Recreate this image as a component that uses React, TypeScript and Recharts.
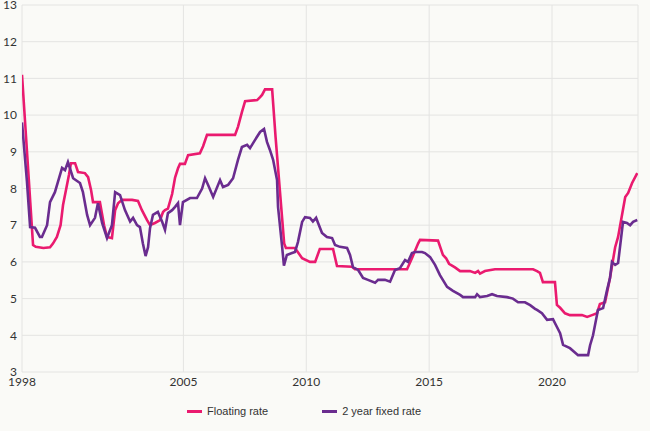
import React from 'react';
import { LineChart, Line, XAxis, YAxis, CartesianGrid, Legend } from 'recharts';

const floatingRate: [number, number][] = [
  [1998.43, 11.1], [1998.88, 6.46], [1998.99, 6.41], [1999.3, 6.38], [1999.57, 6.4],
  [1999.69, 6.5], [1999.85, 6.68], [2000.0, 7.0], [2000.1, 7.55], [2000.22, 7.96],
  [2000.34, 8.37], [2000.42, 8.69], [2000.59, 8.69], [2000.71, 8.45], [2000.99, 8.42],
  [2001.12, 8.31], [2001.24, 7.96], [2001.32, 7.63], [2001.6, 7.63], [2001.77, 7.0],
  [2001.89, 6.68], [2002.09, 6.65], [2002.22, 7.41], [2002.34, 7.6], [2002.5, 7.69],
  [2002.91, 7.69], [2003.15, 7.66], [2003.31, 7.41], [2003.52, 7.14], [2003.64, 7.0],
  [2003.84, 7.06], [2004.05, 7.14], [2004.17, 7.36], [2004.25, 7.41], [2004.37, 7.45],
  [2004.54, 7.85], [2004.66, 8.3], [2004.78, 8.55], [2004.86, 8.67], [2005.06, 8.67],
  [2005.19, 8.91], [2005.67, 8.96], [2005.8, 9.15], [2005.96, 9.46], [2007.1, 9.46],
  [2007.22, 9.68], [2007.38, 10.08], [2007.51, 10.38], [2008.0, 10.41], [2008.12, 10.49],
  [2008.2, 10.55], [2008.32, 10.7], [2008.61, 10.7], [2008.75, 9.4], [2008.93, 7.9],
  [2009.1, 6.5], [2009.17, 6.38], [2009.54, 6.38], [2009.83, 6.1], [2010.15, 6.0],
  [2010.36, 6.0], [2010.55, 6.35], [2011.09, 6.35], [2011.25, 5.89], [2011.86, 5.87],
  [2011.98, 5.8], [2014.1, 5.8], [2014.3, 6.1], [2014.55, 6.5], [2014.63, 6.6],
  [2015.36, 6.58], [2015.56, 6.19], [2015.69, 6.1], [2015.81, 5.95], [2016.05, 5.85],
  [2016.26, 5.75], [2016.66, 5.75], [2016.87, 5.7], [2016.99, 5.75], [2017.07, 5.68],
  [2017.27, 5.75], [2017.68, 5.8], [2019.23, 5.8], [2019.39, 5.75], [2019.51, 5.7],
  [2019.63, 5.45], [2020.12, 5.45], [2020.2, 4.83], [2020.33, 4.75], [2020.53, 4.6],
  [2020.73, 4.55], [2021.22, 4.55], [2021.43, 4.5], [2021.63, 4.55], [2021.83, 4.6],
  [2021.95, 4.85], [2022.16, 4.9], [2022.36, 5.56], [2022.57, 6.4], [2022.69, 6.68],
  [2022.98, 7.77], [2023.1, 7.88], [2023.26, 8.15], [2023.47, 8.42],
];

const fixedRate: [number, number][] = [
  [1998.43, 9.8], [1998.63, 8.2], [1998.76, 6.95], [1998.96, 6.93], [1999.16, 6.68],
  [1999.24, 6.68], [1999.45, 7.0], [1999.57, 7.63], [1999.77, 7.9], [2000.06, 8.56],
  [2000.18, 8.5], [2000.3, 8.72], [2000.51, 8.28], [2000.79, 8.15], [2000.91, 7.9],
  [2001.08, 7.28], [2001.2, 7.0], [2001.4, 7.2], [2001.52, 7.6], [2001.69, 7.06],
  [2001.89, 6.65], [2002.09, 7.0], [2002.22, 7.9], [2002.42, 7.82], [2002.62, 7.41],
  [2002.83, 7.1], [2002.95, 7.2], [2003.11, 7.0], [2003.23, 6.95], [2003.35, 6.5],
  [2003.46, 6.16], [2003.56, 6.4], [2003.64, 6.92], [2003.76, 7.28], [2003.96, 7.36],
  [2004.13, 7.1], [2004.25, 6.87], [2004.37, 7.33], [2004.54, 7.41], [2004.66, 7.5],
  [2004.78, 7.6], [2004.86, 7.0], [2004.98, 7.63], [2005.27, 7.74], [2005.55, 7.74],
  [2005.76, 8.0], [2005.88, 8.28], [2006.0, 8.1], [2006.21, 7.77], [2006.49, 8.23],
  [2006.61, 8.04], [2006.82, 8.1], [2007.02, 8.28], [2007.22, 8.78], [2007.38, 9.13],
  [2007.59, 9.19], [2007.71, 9.1], [2007.91, 9.32], [2008.12, 9.54], [2008.28, 9.62],
  [2008.4, 9.27], [2008.52, 9.05], [2008.65, 8.78], [2008.81, 8.23], [2008.85, 7.5],
  [2009.01, 6.46], [2009.09, 5.9], [2009.21, 6.19], [2009.42, 6.24], [2009.54, 6.27],
  [2009.66, 6.54], [2009.83, 7.09], [2009.95, 7.22], [2010.15, 7.2], [2010.27, 7.1],
  [2010.4, 7.2], [2010.48, 7.06], [2010.64, 6.79], [2010.84, 6.68], [2011.05, 6.65],
  [2011.17, 6.46], [2011.37, 6.41], [2011.66, 6.38], [2011.78, 6.19], [2011.9, 5.86],
  [2012.11, 5.78], [2012.31, 5.56], [2012.51, 5.51], [2012.8, 5.43], [2012.92, 5.51],
  [2013.2, 5.51], [2013.41, 5.46], [2013.61, 5.78], [2013.81, 5.83], [2014.02, 6.05],
  [2014.14, 6.0], [2014.3, 6.24], [2014.43, 6.27], [2014.71, 6.27], [2014.83, 6.24],
  [2015.04, 6.13], [2015.24, 5.92], [2015.44, 5.64], [2015.73, 5.32], [2015.97, 5.21],
  [2016.26, 5.1], [2016.38, 5.04], [2016.87, 5.04], [2016.95, 5.12], [2017.07, 5.04],
  [2017.36, 5.07], [2017.56, 5.12], [2017.76, 5.07], [2018.17, 5.04], [2018.41, 5.0],
  [2018.62, 4.9], [2018.9, 4.9], [2019.11, 4.82], [2019.31, 4.72], [2019.39, 4.69],
  [2019.59, 4.6], [2019.8, 4.42], [2020.04, 4.44], [2020.16, 4.28], [2020.33, 4.06],
  [2020.45, 3.74], [2020.73, 3.65], [2021.06, 3.46], [2021.47, 3.46], [2021.55, 3.73],
  [2021.67, 4.0], [2021.87, 4.69], [2022.08, 4.74], [2022.24, 5.23], [2022.36, 5.56],
  [2022.44, 6.0], [2022.57, 5.92], [2022.69, 5.97], [2022.89, 7.09], [2023.05, 7.06],
  [2023.18, 7.0], [2023.3, 7.09], [2023.47, 7.14],
];

const xTicks = [1998.43, 2005, 2010, 2015, 2020];
const xTickLabels = ['1998', '2005', '2010', '2015', '2020'];
const yTicks = [3, 4, 5, 6, 7, 8, 9, 10, 11, 12, 13];

const seriesNames = ['Floating rate', '2 year fixed rate'];
const seriesColors = ['#ea1a6f', '#6a2c8f'];

const toRows = (pts: [number, number][]) => pts.map(([year, rate]) => ({ year, rate }));

const BG = '#fafaf7';

const renderLegend = () => (
  <div
    style={{
      display: 'flex',
      alignItems: 'center',
      paddingLeft: 187,
      fontFamily: '"Liberation Sans", Arial, sans-serif',
      fontSize: 11,
      color: '#333',
    }}
  >
    {seriesNames.map((name, i) => (
      <div key={name} style={{ display: 'flex', alignItems: 'center', marginRight: 54 }}>
        <span style={{ display: 'inline-block', width: 15, height: 3, background: seriesColors[i], marginRight: 5 }} />
        <span>{name}</span>
      </div>
    ))}
  </div>
);

export default function App() {
  const tickStyle = { fontSize: 12, fill: '#333', fontFamily: 'Lato, "Open Sans", sans-serif' };
  return (
    <div style={{ position: 'fixed', left: 0, top: 0, width: 650, height: 431, background: BG }}>
      <LineChart width={650} height={431} margin={{ top: 5, right: 12, left: 0, bottom: 29 }}>
        <CartesianGrid stroke="#e4e4e2" strokeWidth={1} />
        <XAxis
          type="number"
          dataKey="year"
          domain={[1998.43, 2023.5]}
          ticks={xTicks}
          tickFormatter={(v: number) => xTickLabels[xTicks.indexOf(v)] ?? String(Math.floor(v))}
          axisLine={false}
          tickLine={false}
          tickSize={3}
          tickMargin={2}
          height={30}
          tick={tickStyle}
          interval={0}
          allowDataOverflow
        />
        <YAxis
          type="number"
          domain={[3, 13]}
          ticks={yTicks}
          axisLine={false}
          tickLine={false}
          tickSize={3}
          tickMargin={2}
          width={22}
          tick={tickStyle}
          interval={0}
        />
        <Legend
          layout="horizontal"
          verticalAlign="middle"
          align="center"
          wrapperStyle={{ top: 405, left: 0, width: 650, height: 20 }}
          content={renderLegend}
        />
        <Line
          data={toRows(floatingRate)}
          dataKey="rate"
          name={seriesNames[0]}
          type="linear"
          stroke={seriesColors[0]}
          strokeWidth={2.6}
          dot={false}
          activeDot={false}
          isAnimationActive={false}
        />
        <Line
          data={toRows(fixedRate)}
          dataKey="rate"
          name={seriesNames[1]}
          type="linear"
          stroke={seriesColors[1]}
          strokeWidth={2.6}
          dot={false}
          activeDot={false}
          isAnimationActive={false}
        />
      </LineChart>
    </div>
  );
}
